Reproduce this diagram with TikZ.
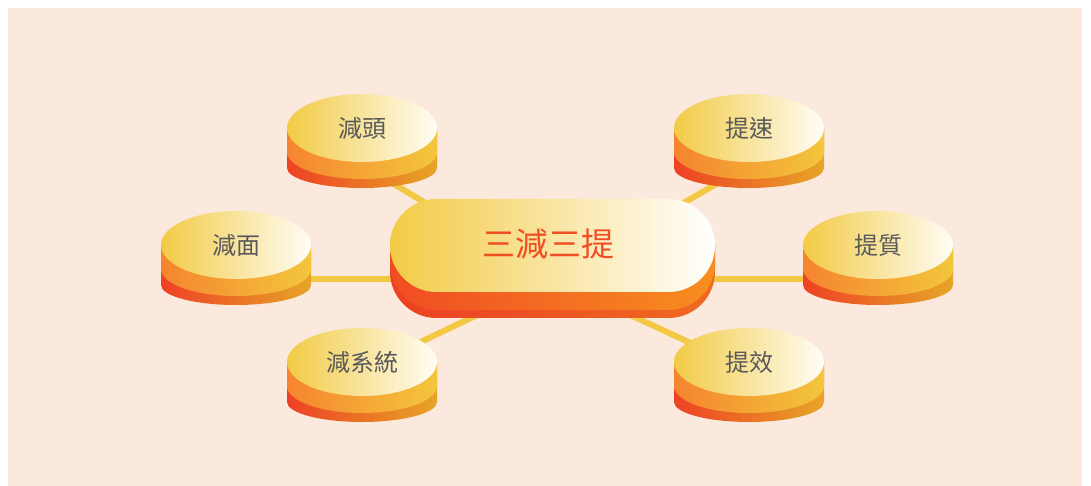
\documentclass[tikz,border=0pt]{standalone}
\usepackage{fontspec}
\newfontfamily\tcfont{Noto Sans CJK TC}

\definecolor{bgpeach}{HTML}{FBE9DE}
\definecolor{spokeyellow}{HTML}{F3C843}
\definecolor{faceleft}{HTML}{F2CB45}
\definecolor{faceright}{HTML}{FFFDF6}
\definecolor{bandtopL}{HTML}{F5842F}
\definecolor{bandtopR}{HTML}{F3C63C}
\definecolor{bandlowL}{HTML}{EE4124}
\definecolor{bandlowR}{HTML}{E7A527}
\definecolor{pillsideL}{HTML}{F04C23}
\definecolor{pillsideR}{HTML}{F78E1F}
\definecolor{pilllowL}{HTML}{EC4023}
\definecolor{pilllowR}{HTML}{EF6A22}
\definecolor{titlered}{HTML}{F04E23}
\definecolor{labelgray}{HTML}{5A5A5A}

% one coin: name, x, y, label
\newcommand{\coin}[4]{%
  \shade[left color=bandlowL, right color=bandlowR]
    (#2-75,#3) -- (#2-75,#3-40) arc[start angle=180, end angle=360, x radius=75, y radius=20] -- (#2+75,#3) -- cycle;
  \shade[left color=bandtopL, right color=bandtopR]
    (#2-75,#3) -- (#2-75,#3-24) arc[start angle=180, end angle=360, x radius=75, y radius=27] -- (#2+75,#3) -- cycle;
  \shade[left color=faceleft, right color=faceright] (#2,#3) ellipse[x radius=75, y radius=34];
  \node[cointext] (#1) at (#2,#3) {#4};
}

\begin{document}
\begin{tikzpicture}[
    x=1pt, y=1pt,
    cointext/.style={font=\tcfont\fontsize{24}{24}\selectfont, text=labelgray, inner sep=0pt},
    titletext/.style={font=\tcfont\fontsize{33}{33}\selectfont, text=titlered, inner sep=0pt},
    spoke/.style={draw=spokeyellow, line width=6pt}
]
\useasboundingbox (0,0) rectangle (1091,486);
\fill[bgpeach] (8,0) rectangle (1082,478);

% spoke ends
\coordinate (hub) at (552.5,207);
\coordinate (headend) at (362,321);
\coordinate (faceend) at (236,207);
\coordinate (sysend) at (362,116);
\coordinate (speedend) at (749,321);
\coordinate (qualend) at (878,207);
\coordinate (effend) at (749,116);

\draw[spoke] (hub) -- (headend);
\draw[spoke] (hub) -- (faceend);
\draw[spoke] (hub) -- (sysend);
\draw[spoke] (hub) -- (speedend);
\draw[spoke] (hub) -- (qualend);
\draw[spoke] (hub) -- (effend);

% centre pill
\shade[left color=pilllowL, right color=pilllowR]
  (390,240.5) -- (390,214.5) arc[start angle=180, end angle=270, radius=46.5]
  -- (668.5,168) arc[start angle=270, end angle=360, radius=46.5] -- (715,240.5) -- cycle;
\shade[left color=pillsideL, right color=pillsideR]
  (390,240.5) -- (390,222.5) arc[start angle=180, end angle=270, radius=46.5]
  -- (668.5,176) arc[start angle=270, end angle=360, radius=46.5] -- (715,240.5) -- cycle;
\shade[left color=faceleft, right color=white, rounded corners=46.5pt] (390,194) rectangle (715,287);
\node[titletext] (title) at (548,242) {三減三提};

% coins
\coin{head}{362}{358}{減頭}
\coin{face}{236}{241}{減面}
\coin{sys}{362}{124}{減系統}
\coin{speed}{749}{358}{提速}
\coin{qual}{878}{241}{提質}
\coin{eff}{749}{124}{提效}

\end{tikzpicture}
\end{document}
